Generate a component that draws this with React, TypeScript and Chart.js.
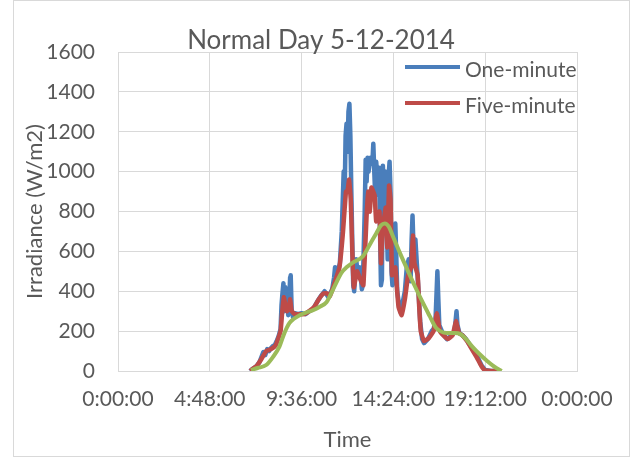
import React, { useEffect, useRef } from "react";
import { Chart, registerables } from "chart.js";

Chart.register(...registerables);

const chartTitle = "Normal Day 5-12-2014";
const xAxisTitle = "Time";
const yAxisTitle = "Irradiance (W/m2)";
const xTickValues = [0, 4.8, 9.6, 14.4, 19.2, 24];
const xTickLabels = ["0:00:00", "4:48:00", "9:36:00", "14:24:00", "19:12:00", "0:00:00"];
const yMin = 0;
const yMax = 1600;
const yStep = 200;

// Time in hours of day
const oneMinuteTimes = [
  6.9, 7.0, 7.2, 7.4, 7.5, 7.6, 7.7, 7.8, 7.9, 8.0, 8.1, 8.2, 8.3, 8.4, 8.5, 8.55, 8.6, 8.65, 8.7, 8.75,
  8.8, 8.85, 8.9, 8.95, 9.0, 9.03, 9.08, 9.15, 9.25, 9.4, 9.6, 9.8, 10.0, 10.2, 10.4, 10.6, 10.8, 10.9, 11.0, 11.1,
  11.2, 11.3, 11.35, 11.4, 11.5, 11.6, 11.7, 11.8, 11.85, 11.9, 11.95, 12.0, 12.05, 12.1, 12.15, 12.2, 12.25, 12.3, 12.35, 12.45,
  12.55, 12.65, 12.75, 12.8, 12.9, 12.95, 13.0, 13.05, 13.1, 13.2, 13.3, 13.35, 13.4, 13.45, 13.5, 13.6, 13.65, 13.7, 13.75, 13.8,
  13.85, 13.9, 13.95, 14.0, 14.1, 14.15, 14.2, 14.25, 14.3, 14.35, 14.45, 14.5, 14.55, 14.6, 14.7, 14.8, 14.9, 15.0, 15.1, 15.2,
  15.3, 15.35, 15.4, 15.45, 15.55, 15.6, 15.7, 15.8, 15.9, 16.0, 16.2, 16.4, 16.5, 16.6, 16.7, 16.75, 16.8, 17.0, 17.2, 17.4,
  17.6, 17.7, 17.75, 17.85, 18.0, 18.2, 18.4, 18.6, 18.8, 19.0, 19.2, 19.5, 19.9,
];
const oneMinuteValues = [
  0, 8, 20, 45, 70, 95, 80, 110, 100, 115, 125, 130, 150, 175, 210, 330, 390, 440, 300, 420,
  340, 380, 280, 350, 470, 480, 310, 270, 290, 285, 290, 285, 300, 310, 345, 375, 400, 385, 370, 390,
  410, 470, 520, 470, 500, 540, 700, 1000, 870, 1180, 1240, 1100, 1300, 1340, 1180, 900, 650, 430, 400, 560,
  480, 520, 410, 430, 800, 1060, 950, 1070, 1000, 1070, 1040, 1140, 1000, 880, 1050, 930, 1020, 700, 430, 460,
  1030, 900, 760, 1000, 560, 980, 1050, 900, 500, 430, 520, 740, 580, 400, 330, 290, 350, 400, 520, 560,
  450, 650, 780, 620, 660, 580, 420, 250, 160, 140, 160, 200, 210, 250, 500, 360, 230, 185, 160, 175,
  200, 300, 230, 190, 180, 160, 130, 100, 70, 30, 5, 0, 0,
];

const fiveMinuteTimes = [
  6.92, 7.0, 7.25, 7.5, 7.75, 8.0, 8.25, 8.5, 8.58, 8.67, 8.75, 8.83, 8.92, 9.0, 9.08, 9.25, 9.5, 9.75, 10.0, 10.25,
  10.5, 10.75, 10.92, 11.08, 11.25, 11.42, 11.58, 11.75, 11.92, 12.0, 12.08, 12.17, 12.25, 12.33, 12.5, 12.67, 12.83, 13.0, 13.08, 13.17,
  13.25, 13.42, 13.5, 13.67, 13.75, 13.83, 14.0, 14.08, 14.17, 14.25, 14.33, 14.5, 14.58, 14.67, 14.83, 15.0, 15.17, 15.33, 15.42, 15.5,
  15.67, 15.75, 15.83, 16.0, 16.25, 16.5, 16.67, 16.83, 17.0, 17.25, 17.5, 17.67, 17.83, 18.0, 18.25, 18.5, 18.75, 19.0, 19.17, 19.5,
  19.83,
];
const fiveMinuteValues = [
  0, 8, 25, 60, 100, 110, 130, 200, 290, 370, 330, 300, 310, 360, 300, 285, 285, 285, 300, 320,
  360, 390, 390, 375, 420, 470, 520, 680, 900, 900, 960, 860, 600, 420, 500, 460, 430, 780, 900, 800,
  920, 880, 750, 800, 540, 700, 820, 620, 930, 860, 480, 520, 420, 320, 280, 360, 480, 520, 680, 540,
  480, 320, 200, 150, 165, 200, 290, 200, 180, 160, 180, 250, 190, 180, 150, 110, 70, 25, 5, 0,
  0,
];

const trendTimes = [
  6.95, 7.3, 7.75, 8.1, 8.44, 8.7, 8.96, 9.2, 9.5, 9.8, 10.2, 10.6, 10.9, 11.2, 11.45, 11.7, 11.95, 12.3, 12.8, 13.2,
  13.5, 13.75, 13.95, 14.15, 14.4, 14.75, 15.1, 15.5, 15.9, 16.3, 16.6, 16.85, 17.2, 17.6, 17.9, 18.2, 18.5, 18.9, 19.3, 19.7,
  20.06,
];
const trendValues = [
  5, 15, 30, 70, 122, 190, 240, 262, 280, 292, 305, 325, 345, 400, 450, 495, 520, 545, 575, 640,
  690, 730, 740, 725, 670, 590, 515, 430, 350, 275, 220, 200, 190, 190, 185, 160, 125, 85, 50, 20,
  0,
];

const legendLabels = ["One-minute", "Five-minute"];
const legendColors = ["#4A7EBB", "#BE4B48"];

const textColor = "#595959";
const gridColor = "#D9D9D9";
const fontFamily = "Lato, 'Open Sans', sans-serif";

const toPoints = (xs: number[], ys: number[]) => xs.map((x, i) => ({ x, y: ys[i] }));

const overlayPlugin = {
  id: "overlayText",
  beforeDraw(chart: any) {
    const ctx = chart.ctx;
    ctx.save();
    ctx.fillStyle = "#FFFFFF";
    ctx.fillRect(0, 0, chart.width, chart.height);
    ctx.strokeStyle = gridColor;
    ctx.lineWidth = 1;
    ctx.strokeRect(13.5, 0.5, 616, 456);
    ctx.restore();
  },
  afterDraw(chart: any) {
    const ctx = chart.ctx;
    const a = chart.chartArea;
    ctx.save();
    ctx.fillStyle = textColor;
    ctx.font = `26px ${fontFamily}`;
    ctx.textAlign = "center";
    ctx.textBaseline = "alphabetic";
    ctx.fillText(chartTitle, 321, a.top - 3);
    ctx.font = `21px ${fontFamily}`;
    ctx.textAlign = "left";
    legendLabels.forEach((label, i) => {
      const y = a.top + 15 + i * 36;
      ctx.strokeStyle = legendColors[i];
      ctx.lineWidth = 4;
      ctx.beginPath();
      ctx.moveTo(a.right - 172, y);
      ctx.lineTo(a.right - 117, y);
      ctx.stroke();
      ctx.fillStyle = textColor;
      ctx.fillText(label, a.right - 112, y + 10);
    });
    ctx.restore();
  },
};

export default function App() {
  const canvasRef = useRef<HTMLCanvasElement | null>(null);

  useEffect(() => {
    let chart: Chart | null = null;
    let cancelled = false;
    const build = () => {
      if (cancelled || !canvasRef.current) return;
      chart = new Chart(canvasRef.current, {
        type: "line",
        data: {
          datasets: [
            {
              label: legendLabels[0],
              data: toPoints(oneMinuteTimes, oneMinuteValues),
              borderColor: legendColors[0],
              borderWidth: 4.5,
              pointRadius: 0,
              tension: 0,
              borderJoinStyle: "round",
              order: 3,
            },
            {
              label: legendLabels[1],
              data: toPoints(fiveMinuteTimes, fiveMinuteValues),
              borderColor: legendColors[1],
              borderWidth: 4.5,
              pointRadius: 0,
              tension: 0.1,
              borderJoinStyle: "round",
              order: 2,
            },
            {
              label: "Trend",
              data: toPoints(trendTimes, trendValues),
              borderColor: "#9BBB59",
              borderWidth: 4,
              pointRadius: 0,
              cubicInterpolationMode: "monotone",
              order: 1,
            },
          ],
        },
        options: {
          animation: false,
          responsive: false,
          layout: { padding: { top: 52, left: 16, right: 63, bottom: 4 } },
          plugins: {
            legend: { display: false },
            title: { display: false },
            tooltip: { enabled: false },
          },
          scales: {
            x: {
              type: "linear",
              min: xTickValues[0],
              max: xTickValues[xTickValues.length - 1],
              afterBuildTicks: (scale: any) => {
                scale.ticks = xTickValues.map((v) => ({ value: v }));
              },
              afterFit: (scale: any) => {
                scale.height = 86;
              },
              ticks: {
                autoSkip: false,
                maxRotation: 0,
                padding: 16,
                color: textColor,
                font: { family: fontFamily, size: 21 },
                callback: (_v: any, i: number) => xTickLabels[i],
              },
              grid: { color: gridColor, drawTicks: false },
              border: { color: gridColor },
              title: {
                display: true,
                text: xAxisTitle,
                color: textColor,
                font: { family: fontFamily, size: 22 },
                padding: { top: 0, bottom: 4 },
              },
            },
            y: {
              min: yMin,
              max: yMax,
              afterFit: (scale: any) => {
                scale.width = 102;
              },
              ticks: {
                stepSize: yStep,
                padding: 23,
                color: textColor,
                font: { family: fontFamily, size: 21 },
                callback: (v: any) => String(v),
              },
              grid: { color: gridColor, drawTicks: false },
              border: { color: gridColor },
              title: {
                display: true,
                text: yAxisTitle,
                color: textColor,
                font: { family: fontFamily, size: 22 },
                padding: { top: 6, bottom: 0 },
              },
            },
          },
        },
        plugins: [overlayPlugin],
      } as any);
    };
    const fontsReady = (document as any).fonts
      ? Promise.all([
          (document as any).fonts.load(`21px Lato`),
          (document as any).fonts.load(`26px Lato`),
        ]).catch(() => null)
      : Promise.resolve(null);
    fontsReady.then(build);
    return () => {
      cancelled = true;
      if (chart) chart.destroy();
    };
  }, []);

  return (
    <div style={{ position: "absolute", left: 0, top: 0, width: 640, height: 461, background: "#fff" }}>
      <canvas ref={canvasRef} width={640} height={461} style={{ display: "block" }} />
    </div>
  );
}
